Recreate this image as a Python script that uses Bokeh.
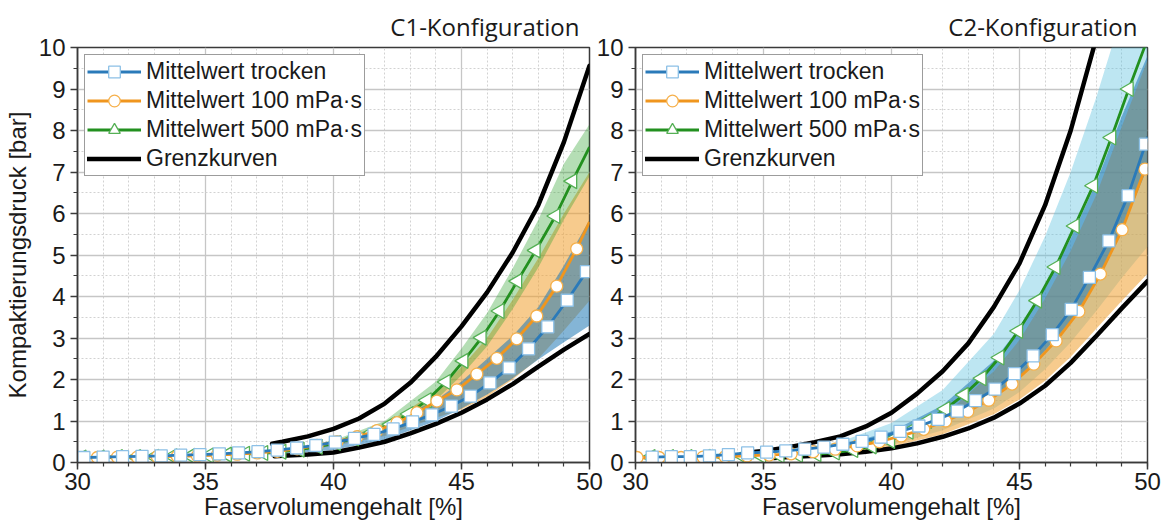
import math

from bokeh.plotting import figure
from bokeh.layouts import row
from bokeh.models import Range1d, SingleIntervalTicker, Legend, LegendItem
from bokeh.embed import file_html
from bokeh.resources import INLINE

# ---------------------------------------------------------------- data
# Fibre volume content [%] and compaction pressure [bar]

# C1 configuration
c1_dry_x = [30.25, 31.0, 31.76, 32.52, 33.27, 34.03, 34.78, 35.54, 36.29, 37.05, 37.8, 38.56, 39.31,
            40.07, 40.82, 41.58, 42.33, 43.09, 43.84, 44.6, 45.35, 46.11, 46.86, 47.62, 48.37, 49.13, 49.88]
c1_dry_y = [0.12, 0.13, 0.14, 0.15, 0.16, 0.18, 0.19, 0.21, 0.23, 0.26, 0.30, 0.35, 0.41,
            0.49, 0.58, 0.68, 0.81, 0.98, 1.15, 1.36, 1.60, 1.92, 2.28, 2.74, 3.27, 3.91, 4.60]
c1_dry_end = 4.75

c1_100_x = [30.0, 30.78, 31.56, 32.34, 33.12, 33.9, 34.68, 35.46, 36.24, 37.02, 37.8, 38.58, 39.36,
            40.14, 40.92, 41.7, 42.48, 43.26, 44.04, 44.82, 45.6, 46.38, 47.16, 47.94, 48.72, 49.5]
c1_100_y = [0.12, 0.12, 0.13, 0.13, 0.14, 0.15, 0.16, 0.18, 0.20, 0.23, 0.27, 0.33, 0.41,
            0.50, 0.62, 0.77, 0.96, 1.20, 1.48, 1.75, 2.13, 2.51, 2.98, 3.53, 4.25, 5.15]
c1_100_end = 5.8

c1_500_x = [30.16, 30.87, 31.58, 32.29, 33.0, 33.71, 34.42, 35.13, 35.84, 36.55, 37.26, 37.97, 38.68, 39.39,
            40.1, 40.81, 41.52, 42.23, 42.94, 43.65, 44.39, 45.08, 45.79, 46.49, 47.18, 47.9, 48.67, 49.33]
c1_500_y = [0.12, 0.12, 0.13, 0.13, 0.14, 0.15, 0.16, 0.17, 0.19, 0.21, 0.23, 0.26, 0.31, 0.38,
            0.47, 0.58, 0.73, 0.92, 1.17, 1.50, 1.94, 2.45, 3.01, 3.65, 4.37, 5.11, 5.94, 6.78]
c1_500_end = 7.6

c1_upper_x = [37.6, 38, 39, 40, 41, 42, 43, 44, 45, 46, 47, 48, 49, 50]
c1_upper_y = [0.45, 0.50, 0.63, 0.81, 1.06, 1.42, 1.92, 2.55, 3.28, 4.10, 5.06, 6.20, 7.72, 9.56]
c1_lower_x = [37.7, 38, 39, 40, 41, 42, 43, 44, 45, 46, 47, 48, 49, 50]
c1_lower_y = [0.15, 0.16, 0.19, 0.24, 0.36, 0.50, 0.70, 0.93, 1.20, 1.52, 1.89, 2.31, 2.72, 3.10]

band_x = [30, 32, 34, 36, 38, 40, 42, 44, 45, 46, 47, 48, 49, 50]
c1_dry_lo = [0.07, 0.09, 0.12, 0.15, 0.20, 0.30, 0.55, 1.00, 1.30, 1.64, 2.03, 2.48, 2.90, 3.30]
c1_dry_hi = [0.15, 0.17, 0.19, 0.23, 0.31, 0.50, 0.90, 1.50, 1.95, 2.50, 3.05, 3.75, 4.75, 5.85]
c1_100_lo = [0.08, 0.10, 0.13, 0.17, 0.25, 0.40, 0.64, 1.08, 1.28, 1.58, 2.00, 2.50, 3.18, 3.90]
c1_100_hi = [0.15, 0.16, 0.18, 0.22, 0.30, 0.50, 0.92, 1.70, 2.30, 3.00, 3.92, 4.92, 6.00, 7.00]
c1_500_lo = [0.10, 0.11, 0.13, 0.17, 0.24, 0.40, 0.76, 1.50, 2.10, 2.80, 3.70, 4.70, 5.85, 6.90]
c1_500_hi = [0.15, 0.16, 0.18, 0.23, 0.31, 0.53, 1.00, 1.95, 2.75, 3.60, 4.68, 5.85, 7.20, 8.15]

# C2 configuration
c2_dry_x = [30.65, 31.4, 32.14, 32.89, 33.63, 34.38, 35.12, 35.87, 36.61, 37.36, 38.1, 38.85, 39.59,
            40.33, 41.07, 41.82, 42.57, 43.28, 44.04, 44.8, 45.53, 46.28, 47.02, 47.73, 48.49, 49.24, 49.92]
c2_dry_y = [0.13, 0.14, 0.14, 0.16, 0.19, 0.23, 0.25, 0.28, 0.32, 0.37, 0.44, 0.51, 0.61,
            0.75, 0.88, 1.04, 1.24, 1.49, 1.77, 2.14, 2.57, 3.08, 3.69, 4.46, 5.34, 6.43, 7.67]
c2_dry_end = 7.85

c2_100_x = [30.06, 30.92, 31.78, 32.64, 33.5, 34.36, 35.22, 36.08, 36.94, 37.8, 38.66, 39.52,
            40.38, 41.26, 42.11, 42.98, 43.8, 44.71, 45.56, 46.43, 47.32, 48.16, 49.01, 49.9]
c2_100_y = [0.12, 0.12, 0.12, 0.13, 0.14, 0.16, 0.18, 0.21, 0.26, 0.32, 0.40, 0.50,
            0.64, 0.80, 1.00, 1.23, 1.50, 1.89, 2.37, 2.93, 3.64, 4.54, 5.61, 7.07]
c2_100_end = 7.2

c2_500_x = [30.59, 31.31, 32.03, 32.75, 33.47, 34.19, 34.91, 35.63, 36.35, 37.07, 37.79, 38.51, 39.23, 39.95,
            40.67, 41.39, 42.11, 42.83, 43.52, 44.22, 44.95, 45.69, 46.41, 47.16, 47.88, 48.59, 49.27]
c2_500_y = [0.13, 0.13, 0.13, 0.14, 0.14, 0.15, 0.16, 0.17, 0.18, 0.20, 0.24, 0.30, 0.39, 0.52,
            0.74, 1.00, 1.29, 1.63, 2.03, 2.53, 3.17, 3.90, 4.71, 5.70, 6.67, 7.83, 9.00]
c2_500_end = 10.2

c2_upper_x = [34.4, 35, 36, 37, 38, 39, 40, 41, 42, 43, 44, 45, 46, 47, 47.9, 48.3]
c2_upper_y = [0.24, 0.28, 0.37, 0.49, 0.63, 0.87, 1.20, 1.66, 2.20, 2.87, 3.75, 4.80, 6.20, 8.00, 10.0, 11.0]
c2_lower_x = [35.4, 36, 37, 38, 39, 40, 41, 42, 43, 44, 45, 46, 47, 48, 49, 50]
c2_lower_y = [0.11, 0.13, 0.16, 0.20, 0.26, 0.34, 0.46, 0.62, 0.82, 1.08, 1.42, 1.85, 2.40, 3.05, 3.72, 4.37]

c2_500_lo = [0.08, 0.09, 0.11, 0.14, 0.22, 0.42, 0.78, 1.30, 1.70, 2.25, 2.90, 3.65, 4.45, 5.20]
c2_500_hi = [0.17, 0.19, 0.24, 0.32, 0.50, 0.95, 1.75, 3.10, 4.15, 5.45, 7.00, 8.80, 10.8, 12.8]
c2_100_lo = [0.07, 0.08, 0.10, 0.13, 0.21, 0.38, 0.68, 1.16, 1.52, 1.97, 2.55, 3.22, 3.90, 4.55]
c2_100_hi = [0.14, 0.15, 0.17, 0.20, 0.30, 0.50, 1.10, 2.20, 2.95, 3.95, 5.10, 6.45, 8.10, 9.70]
c2_dry_lo = [0.10, 0.11, 0.14, 0.20, 0.30, 0.52, 0.98, 1.60, 2.05, 2.70, 3.40, 4.35, 5.60, 7.10]
c2_dry_hi = [0.16, 0.17, 0.20, 0.27, 0.42, 0.75, 1.38, 2.45, 3.25, 4.20, 5.40, 6.75, 8.35, 9.80]

labels = ["Mittelwert trocken", "Mittelwert 100 mPa·s", "Mittelwert 500 mPa·s", "Grenzkurven"]

# ---------------------------------------------------------------- style
SANS = "Liberation Sans"
DARK = "#3a3a3a"
BLUE, ORANGE, GREEN = "#2a7ab9", "#f0961e", "#22901f"
SQ_EDGE, CI_EDGE, TR_EDGE = "#8cc0e6", "#f6b04a", "#55b055"


def make_panel(title, width, border_left, border_right, series, bands, limits, y_label):
    p = figure(width=width, height=526, x_range=Range1d(30, 50), y_range=Range1d(0, 10),
               output_backend="svg", toolbar_location=None,
               min_border_left=border_left, min_border_right=border_right,
               min_border_top=47, min_border_bottom=64)
    p.title.text = title
    p.title.align = "right"
    p.title.offset = 10
    p.title.text_font = "Open Sans"
    p.title.text_font_size = "24px"
    p.title.text_font_style = "normal"
    p.title.text_color = "#1a1a1a"

    p.outline_line_color = DARK
    p.outline_line_width = 1.5
    p.background_fill_color = "white"

    p.xaxis.ticker = SingleIntervalTicker(interval=5, num_minor_ticks=5)
    p.yaxis.ticker = SingleIntervalTicker(interval=1, num_minor_ticks=2)
    for ax in (p.xaxis[0], p.yaxis[0]):
        ax.axis_line_color = DARK
        ax.axis_line_width = 1.5
        ax.major_tick_line_color = DARK
        ax.major_tick_line_width = 1.5
        ax.minor_tick_line_color = DARK
        ax.minor_tick_line_width = 1.2
        ax.major_tick_in = 0
        ax.major_tick_out = 7
        ax.minor_tick_in = 0
        ax.minor_tick_out = 4
        ax.major_label_text_font = SANS
        ax.major_label_text_font_size = "24px"
        ax.major_label_text_color = "#1a1a1a"
        ax.axis_label_text_font = SANS
        ax.axis_label_text_font_size = "24px"
        ax.axis_label_text_font_style = "normal"
        ax.axis_label_text_color = "#1a1a1a"
    p.xaxis.major_label_standoff = 3
    p.xaxis.axis_label_standoff = 0
    p.xaxis.axis_label = "Faservolumengehalt [%]"
    p.yaxis.major_label_standoff = 5
    if y_label:
        p.yaxis.axis_label = y_label
        p.yaxis.axis_label_standoff = 5

    for g in (p.xgrid[0], p.ygrid[0]):
        g.grid_line_color = "#c6c6c6"
        g.grid_line_width = 1.3
        g.minor_grid_line_color = "#d2d2d2"
        g.minor_grid_line_width = 1
        g.minor_grid_line_dash = "2 2"

    # scatter bands
    for lo, hi, color, alpha in bands:
        p.varea(x=band_x, y1=lo, y2=hi, fill_color=color, fill_alpha=alpha)

    # limit curves
    black = []
    for lx, ly in limits:
        black.append(p.line(lx, ly, line_color="black", line_width=4.5, line_cap="round"))

    # mean curves with markers (drawn 500 -> 100 -> dry so the squares end on top)
    rend = {}
    for key in ("500", "100", "dry"):
        xs, ys, end, color, marker, edge, size, angle = series[key]
        ln = p.line(xs + [50.0], ys + [end], line_color=color, line_width=2.8)
        sc = p.scatter(xs, ys, marker=marker, size=size, angle=angle,
                       fill_color="white", line_color=edge, line_width=1.3)
        rend[key] = [ln, sc]

    legend = Legend(items=[LegendItem(label=labels[0], renderers=rend["dry"]),
                           LegendItem(label=labels[1], renderers=rend["100"]),
                           LegendItem(label=labels[2], renderers=rend["500"]),
                           LegendItem(label=labels[3], renderers=[black[0]])],
                    location="top_left", margin=7, padding=2, spacing=0,
                    glyph_width=54, glyph_height=29, label_height=29, label_standoff=5,
                    label_text_font=SANS, label_text_font_size="23px", label_text_color="#1a1a1a",
                    border_line_color=DARK, border_line_width=1.5,
                    background_fill_color="white", background_fill_alpha=1.0)
    p.add_layout(legend)
    return p


c1_series = {
    "dry": (c1_dry_x, c1_dry_y, c1_dry_end, BLUE, "square", SQ_EDGE, 12, 0.0),
    "100": (c1_100_x, c1_100_y, c1_100_end, ORANGE, "circle", CI_EDGE, 12, 0.0),
    "500": (c1_500_x, c1_500_y, c1_500_end, GREEN, "triangle", TR_EDGE, 15, math.pi / 2),
}
c1_bands = [(c1_100_lo, c1_100_hi, "#f0a030", 0.55),
            (c1_500_lo, c1_500_hi, "#2ca02c", 0.35),
            (c1_dry_lo, c1_dry_hi, "#1f78b4", 0.55)]
c2_series = {
    "dry": (c2_dry_x, c2_dry_y, c2_dry_end, BLUE, "square", SQ_EDGE, 12, 0.0),
    "100": (c2_100_x, c2_100_y, c2_100_end, ORANGE, "circle", CI_EDGE, 12, 0.0),
    "500": (c2_500_x, c2_500_y, c2_500_end, GREEN, "triangle", TR_EDGE, 15, math.pi / 2),
}
c2_bands = [(c2_500_lo, c2_500_hi, "#5bc0de", 0.4),
            (c2_100_lo, c2_100_hi, "#f0a030", 0.55),
            (c2_dry_lo, c2_dry_hi, "#1f78b4", 0.55)]

p1 = make_panel("C1-Konfiguration", 606, 76, 17, c1_series, c1_bands,
                [(c1_upper_x, c1_upper_y), (c1_lower_x, c1_lower_y)], "Kompaktierungsdruck [bar]")
p2 = make_panel("C2-Konfiguration", 576, 43, 21, c2_series, c2_bands,
                [(c2_upper_x, c2_upper_y), (c2_lower_x, c2_lower_y)], None)
# let the second panel slide over the free right margin of the first one
p2.border_fill_alpha = 0.0
p2.styles = {"margin-left": "-14px"}

layout = row(p1, p2)
open("out.html", "w").write(file_html(layout, INLINE))
